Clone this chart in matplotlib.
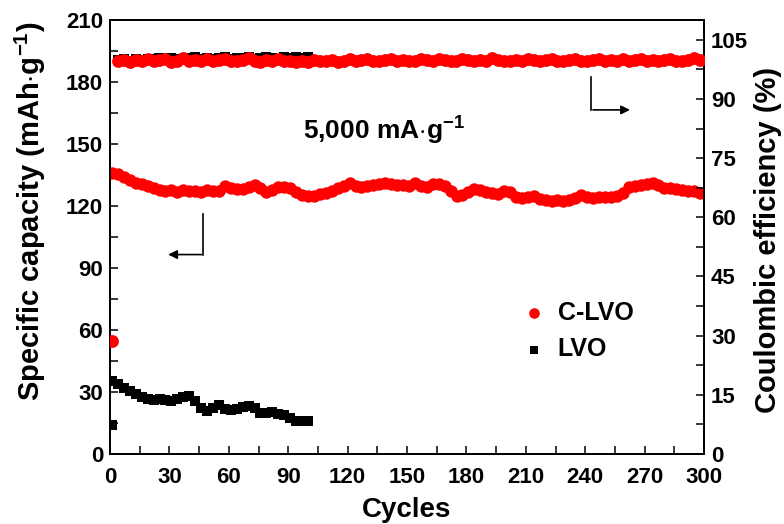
import numpy as np
import matplotlib
matplotlib.use("Agg")
import matplotlib.pyplot as plt

plt.rcParams['font.family'] = ['Liberation Sans', 'DejaVu Sans']
plt.rcParams['font.weight'] = 'bold'
plt.rcParams['mathtext.fontset'] = 'custom'
plt.rcParams['mathtext.rm'] = 'Liberation Sans:bold'
plt.rcParams['mathtext.bf'] = 'Liberation Sans:bold'
plt.rcParams['mathtext.default'] = 'rm'

# C-LVO, read every 3 cycles
clvo_capacity = [
    136, 135.5, 134, 132.5, 131, 130.5, 129.8, 128.8, 127.6, 127.2,
    127.6, 127.0, 127.8, 127.2, 127.5, 127.0, 127.6, 127.2, 127.5, 129.5,
    128.8, 128.3, 128.0, 129.0, 130.0, 128.5, 127.0, 127.8, 129.2, 129.0,
    128.5, 127.0, 125.5, 125.0, 124.8, 125.8, 126.5, 127.5, 128.5, 129.8,
    131.0, 129.6, 129.2, 129.8, 130.0, 130.5, 131.3, 130.6, 130.2, 130.0,
    129.5, 131.0, 129.6, 129.4, 130.5, 130.8, 129.5, 127.5, 124.8, 125.5,
    127.0, 128.3, 127.8, 126.8, 126.2, 126.0, 127.2, 127.0, 124.5, 123.7,
    124.2, 124.6, 123.5, 122.8, 122.5, 123.0, 122.6, 122.8, 124.0, 125.2,
    124.3, 123.8, 124.2, 124.5, 124.4, 124.8, 126.5, 129.0, 129.6, 130.2,
    130.8, 131.3, 130.0, 128.8, 128.5, 128.3, 127.8, 127.5, 127.2, 126.2,
]
clvo_ce = [
    28.7, 99.5, 99.8, 99.4, 99.9, 99.6, 100.2, 99.5, 99.8, 100.1,
    99.4, 99.7, 100.3, 99.6, 99.9, 99.5, 100.0, 99.6, 99.8, 100.2,
    99.5, 99.7, 99.9, 100.3, 99.6, 99.4, 99.8, 99.6, 100.1, 99.7,
    99.5, 99.3, 99.6, 99.4, 99.8, 99.5, 99.6, 99.9, 99.4, 99.7,
    100.0, 99.6, 99.8, 100.2, 99.7, 99.5, 99.9, 100.1, 99.6, 99.8,
    99.5, 99.7, 100.0, 99.8, 99.6, 100.2, 99.9, 99.5, 99.7, 100.1,
    99.8, 99.6, 99.9, 99.7, 100.3, 99.8, 99.5, 99.7, 99.9, 99.6,
    100.0, 99.8, 99.5, 99.9, 100.2, 99.7, 99.6, 99.8, 100.0, 99.7,
    99.5, 99.9, 100.1, 99.6, 99.8, 99.7, 100.0, 99.6, 99.9, 100.2,
    99.7, 99.8, 99.5, 99.9, 100.1, 99.7, 99.6, 99.9, 100.3, 99.8,
]
clvo_cycles = np.arange(len(clvo_capacity)) * 3 + 1

# LVO, read every 3 cycles
lvo_capacity = [
    35.5, 34, 32, 30.5, 29, 27.8, 26.5, 26.0, 26.5, 26.0,
    25.5, 26.5, 27.5, 28, 25.5, 22.5, 20.8, 22.5, 23.8, 22.0,
    21.3, 22.0, 22.8, 23.0, 22.5, 20.0, 19.8, 20.2, 19.5, 19.0,
    17.5, 16.2, 15.8, 16.0,
]
lvo_ce = [
    7.4, 99.8, 100.0, 99.7, 100.1, 99.9, 100.2, 100.0, 100.3, 100.1,
    100.4, 100.2, 100.0, 100.3, 100.5, 100.2, 100.4, 100.1, 100.3, 100.6,
    100.2, 100.4, 100.3, 100.5, 100.1, 100.4, 100.6, 100.3, 100.2, 100.5,
    100.4, 100.6, 100.3, 100.5,
]
lvo_cycles = np.arange(len(lvo_capacity)) * 3 + 1

fig = plt.figure(figsize=(7.84, 5.24), dpi=100)
ax = fig.add_axes([110/784, 70/524, 594/784, 434/524])
ax2 = ax.twinx()

ax.scatter(lvo_cycles, lvo_capacity, s=55, marker='s', color='black', linewidths=0, label='LVO', zorder=3)
ax.scatter(clvo_cycles, clvo_capacity, s=80, marker='o', color='red', linewidths=0, label='C-LVO', zorder=3)
ax2.scatter(lvo_cycles, lvo_ce, s=55, marker='s', color='black', linewidths=0, zorder=3)
ax2.scatter(clvo_cycles, clvo_ce, s=85, marker='o', color='red', linewidths=0, zorder=4)

ax.set_xlim(0, 300)
ax.set_ylim(0, 210)
ax2.set_ylim(0, 110)
ax.set_xticks(np.arange(0, 301, 30))
ax.set_xticks(np.arange(15, 300, 30), minor=True)
ax.set_yticks(np.arange(0, 211, 30))
ax.set_yticks(np.arange(15, 210, 30), minor=True)
ax2.set_yticks(np.arange(0, 106, 15))
ax2.set_yticks(np.arange(7.5, 105, 15), minor=True)

for a in (ax, ax2):
    a.tick_params(which='both', direction='in', length=6, width=1.1, labelsize=16)
    for sp in a.spines.values():
        sp.set_linewidth(1.3)
ax.tick_params(which='both', top=False, right=False)
ax.tick_params(axis='x', pad=9.5)
ax.tick_params(axis='y', pad=5)
ax2.tick_params(axis='y', pad=5)

ax.set_xlabel('Cycles', fontsize=20, fontweight='bold', labelpad=6)
ax.set_ylabel('Specific capacity (mAh$\\cdot$g$^{-1}$)', fontsize=21, fontweight='bold')
ax.yaxis.set_label_coords(-0.104, 0.56)
ax2.set_ylabel('Coulombic efficiency (%)', fontsize=21, fontweight='bold')
ax2.yaxis.set_label_coords(1.084, 0.493)

ax.text(0.325, 0.745, '5,000 mA$\\cdot$g$^{-1}$', transform=ax.transAxes, fontsize=19,
        fontweight='bold', ha='left', va='center')

# arrows pointing to the axes
ax.plot([47, 47], [116, 96.5], color='black', lw=1.2)
ax.annotate('', xy=(28, 96.5), xytext=(47.5, 96.5),
            arrowprops=dict(arrowstyle='-|>', color='black', lw=1.2, mutation_scale=13))
ax.plot([243, 243], [182.5, 166.5], color='black', lw=1.2)
ax.annotate('', xy=(264, 166.5), xytext=(242.5, 166.5),
            arrowprops=dict(arrowstyle='-|>', color='black', lw=1.2, mutation_scale=13))

h, l = ax.get_legend_handles_labels()
ax.legend(h[::-1], l[::-1], loc='center left', bbox_to_anchor=(0.655, 0.283), frameon=False,
          fontsize=18, markerscale=0.85, handlelength=1.0, handletextpad=0.45, labelspacing=0.5)

fig.savefig('out.png', dpi=100)
